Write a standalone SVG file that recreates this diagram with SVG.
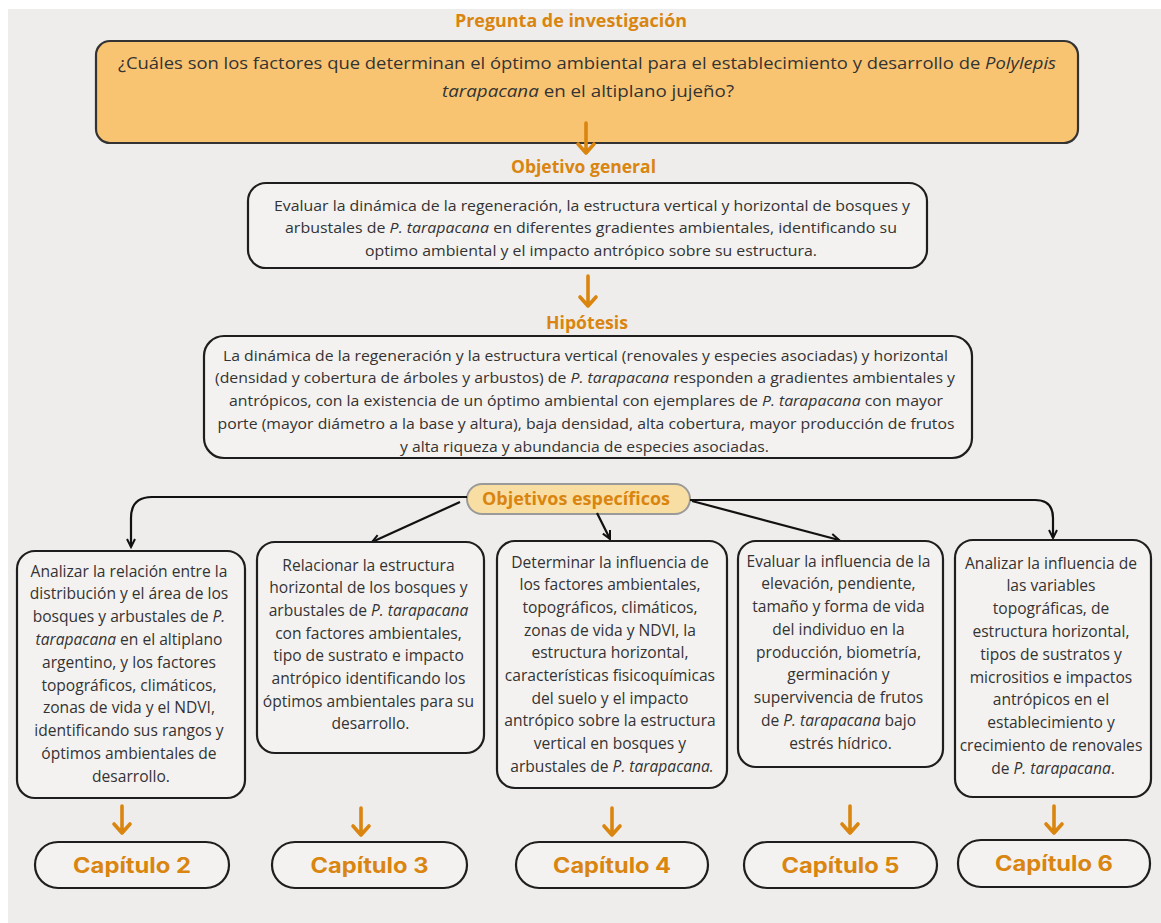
<svg xmlns="http://www.w3.org/2000/svg" width="1161" height="923" viewBox="0 0 1161 923">
<style>
.title{font-family:"Open Sans","Liberation Sans",sans-serif;font-weight:700;font-size:18px;fill:#D9850F;text-anchor:middle}
.box{fill:#F3F2F1;stroke:#1e1e1e;stroke-width:2.2}
.t{font-family:"Open Sans","Liberation Sans",sans-serif;font-size:15.6px;fill:#333;text-anchor:middle}
.tc{font-family:"Open Sans","Liberation Sans",sans-serif;font-size:15.2px;fill:#333;text-anchor:middle}
.i{font-style:italic}
.chap{fill:#F3F2F1;stroke:#1e1e1e;stroke-width:2.2}
.ct{font-family:Inter,"Liberation Sans",sans-serif;font-weight:700;font-size:21px;fill:#D9850F;text-anchor:middle}
.oa{fill:none;stroke:#D9850F;stroke-width:3.6;stroke-linecap:round;stroke-linejoin:round}
.con{fill:none;stroke:#111;stroke-width:2.2}
</style>
<defs>
<marker id="ah" markerUnits="userSpaceOnUse" markerWidth="12" markerHeight="12" refX="9" refY="5" orient="auto">
<path d="M1,1 L9,5 L1,9" fill="none" stroke="#111" stroke-width="2"/>
</marker>
</defs>
<rect x="8" y="9" width="1153" height="914" fill="#EEEDEB"/>

<g id="pregunta">
<text class="title" x="571" y="27" textLength="232" lengthAdjust="spacingAndGlyphs">Pregunta de investigación</text>
<rect x="96" y="41" width="982" height="102" rx="14" fill="#F9C472" stroke="#333" stroke-width="2.2"/>
<text class="t" style="font-size:16.8px" x="587" y="69" textLength="938" lengthAdjust="spacingAndGlyphs">¿Cuáles son los factores que determinan el óptimo ambiental para el establecimiento y desarrollo de <tspan class="i">Polylepis</tspan></text>
<text class="t" style="font-size:16.8px" x="588" y="97" textLength="292" lengthAdjust="spacingAndGlyphs"><tspan class="i">tarapacana</tspan> en el altiplano jujeño?</text>
</g>

<g id="objetivo-general">
<text class="title" x="583.5" y="173" textLength="145" lengthAdjust="spacingAndGlyphs">Objetivo general</text>
<rect class="box" x="248" y="183" width="679" height="85" rx="18"/>
<text class="tc" x="592" y="210.5" textLength="636" lengthAdjust="spacingAndGlyphs">Evaluar la dinámica de la regeneración, la estructura vertical y horizontal de bosques y</text>
<text class="tc" x="591" y="233" textLength="612" lengthAdjust="spacingAndGlyphs">arbustales de <tspan class="i">P. tarapacana</tspan> en diferentes gradientes ambientales, identificando su</text>
<text class="tc" x="591" y="255.5" textLength="452" lengthAdjust="spacingAndGlyphs">optimo ambiental y el impacto antrópico sobre su estructura.</text>
</g>

<g id="hipotesis">
<text class="title" x="587" y="329" textLength="82" lengthAdjust="spacingAndGlyphs">Hipótesis</text>
<rect class="box" x="204" y="336" width="768" height="122" rx="20"/>
<text class="tc" x="585.5" y="360.5" textLength="725" lengthAdjust="spacingAndGlyphs">La dinámica de la regeneración y la estructura vertical (renovales y especies asociadas) y horizontal</text>
<text class="tc" x="585" y="383" textLength="740" lengthAdjust="spacingAndGlyphs">(densidad y cobertura de árboles y arbustos) de <tspan class="i">P. tarapacana</tspan> responden a gradientes ambientales y</text>
<text class="tc" x="586" y="406" textLength="714" lengthAdjust="spacingAndGlyphs">antrópicos, con la existencia de un óptimo ambiental con ejemplares de <tspan class="i">P. tarapacana</tspan> con mayor</text>
<text class="tc" x="586" y="428.5" textLength="737" lengthAdjust="spacingAndGlyphs">porte (mayor diámetro a la base y altura), baja densidad, alta cobertura, mayor producción de frutos</text>
<text class="tc" x="584.5" y="451.5" textLength="369" lengthAdjust="spacingAndGlyphs">y alta riqueza y abundancia de especies asociadas.</text>
</g>

<g id="objetivos-especificos">
<rect x="467" y="484" width="223" height="30" rx="15" fill="#F9DEA3" stroke="#9a9a9a" stroke-width="2"/>
<text class="title" x="576" y="505" textLength="188" lengthAdjust="spacingAndGlyphs">Objetivos específicos</text>
</g>

<g id="connectors">
<path class="oa" d="M586,123 V153 M578,144 L586,153 L594,144"/>
<path class="oa" d="M588,276 V306 M580,297 L588,306 L596,297"/>
<path class="con" d="M467,497 H152 Q131,497 131,518 V547" marker-end="url(#ah)"/>
<path class="con" d="M460,502 L372,542" marker-end="url(#ah)"/>
<path class="con" d="M597,513 L610,539" marker-end="url(#ah)"/>
<path class="con" d="M692,501 L839,540" marker-end="url(#ah)"/>
<path class="con" d="M690,500 H1035 Q1053,500 1053,518 V538" marker-end="url(#ah)"/>
<path class="oa" d="M122,806 V833 M114,824 L122,833 L130,824"/>
<path class="oa" d="M361,808 V835 M353,826 L361,835 L369,826"/>
<path class="oa" d="M612,808 V835 M604,826 L612,835 L620,826"/>
<path class="oa" d="M850,806 V833 M842,824 L850,833 L858,824"/>
<path class="oa" d="M1054,806 V833 M1046,824 L1054,833 L1062,824"/>
</g>

<g id="obj1">
<rect class="box" x="17" y="551" width="228" height="247" rx="18"/>
<text class="t" x="131" y="576.5">
<tspan x="131">Analizar la relación entre la</tspan>
<tspan x="131" dy="22.8">distribución y el área de los</tspan>
<tspan x="131" dy="22.8">bosques y arbustales de <tspan class="i">P.</tspan></tspan>
<tspan x="131" dy="22.8"><tspan class="i">tarapacana</tspan> en el altiplano</tspan>
<tspan x="131" dy="22.8">argentino, y los factores</tspan>
<tspan x="131" dy="22.8">topográficos, climáticos,</tspan>
<tspan x="131" dy="22.8">zonas de vida y el NDVI,</tspan>
<tspan x="131" dy="22.8">identificando sus rangos y</tspan>
<tspan x="131" dy="22.8">óptimos ambientales de</tspan>
<tspan x="131" dy="22.8">desarrollo.</tspan>
</text>
</g>

<g id="obj2">
<rect class="box" x="257" y="542" width="227" height="211" rx="18"/>
<text class="t" x="370.5" y="570.5">
<tspan x="370.5">Relacionar la estructura</tspan>
<tspan x="370.5" dy="22.7">horizontal de los bosques y</tspan>
<tspan x="370.5" dy="22.7">arbustales de <tspan class="i">P. tarapacana</tspan></tspan>
<tspan x="370.5" dy="22.7">con factores ambientales,</tspan>
<tspan x="370.5" dy="22.7">tipo de sustrato e impacto</tspan>
<tspan x="370.5" dy="22.7">antrópico identificando los</tspan>
<tspan x="370.5" dy="22.7">óptimos ambientales para su</tspan>
<tspan x="370.5" dy="22.7">desarrollo.</tspan>
</text>
</g>

<g id="obj3">
<rect class="box" x="497" y="541" width="230" height="247" rx="18"/>
<text class="t" x="612" y="567.5">
<tspan x="612">Determinar la influencia de</tspan>
<tspan x="612" dy="22.7">los factores ambientales,</tspan>
<tspan x="612" dy="22.7">topográficos, climáticos,</tspan>
<tspan x="612" dy="22.7">zonas de vida y NDVI, la</tspan>
<tspan x="612" dy="22.7">estructura horizontal,</tspan>
<tspan x="612" dy="22.7">características fisicoquímicas</tspan>
<tspan x="612" dy="22.7">del suelo y el impacto</tspan>
<tspan x="612" dy="22.7">antrópico sobre la estructura</tspan>
<tspan x="612" dy="22.7">vertical en bosques y</tspan>
<tspan x="612" dy="22.7">arbustales de <tspan class="i">P. tarapacana.</tspan></tspan>
</text>
</g>

<g id="obj4">
<rect class="box" x="738" y="541" width="205" height="226" rx="18"/>
<text class="t" x="840.5" y="566.5">
<tspan x="840.5">Evaluar la influencia de la</tspan>
<tspan x="840.5" dy="22.75">elevación, pendiente,</tspan>
<tspan x="840.5" dy="22.75">tamaño y forma de vida</tspan>
<tspan x="840.5" dy="22.75">del individuo en la</tspan>
<tspan x="840.5" dy="22.75">producción, biometría,</tspan>
<tspan x="840.5" dy="22.75">germinación y</tspan>
<tspan x="840.5" dy="22.75">supervivencia de frutos</tspan>
<tspan x="840.5" dy="22.75">de <tspan class="i">P. tarapacana</tspan> bajo</tspan>
<tspan x="840.5" dy="22.75">estrés hídrico.</tspan>
</text>
</g>

<g id="obj5">
<rect class="box" x="955" y="540" width="196" height="257" rx="18"/>
<text class="t" x="1053" y="568.5">
<tspan x="1053">Analizar la influencia de</tspan>
<tspan x="1053" dy="22.8">las variables</tspan>
<tspan x="1053" dy="22.8">topográficas, de</tspan>
<tspan x="1053" dy="22.8">estructura horizontal,</tspan>
<tspan x="1053" dy="22.8">tipos de sustratos y</tspan>
<tspan x="1053" dy="22.8">micrositios e impactos</tspan>
<tspan x="1053" dy="22.8">antrópicos en el</tspan>
<tspan x="1053" dy="22.8">establecimiento y</tspan>
<tspan x="1053" dy="22.8">crecimiento de renovales</tspan>
<tspan x="1053" dy="22.8">de <tspan class="i">P. tarapacana</tspan>.</tspan>
</text>
</g>

<g id="cap2"><rect class="chap" x="35" y="842" width="194" height="46" rx="23"/><text class="ct" x="132" y="873" textLength="118" lengthAdjust="spacingAndGlyphs">Capítulo 2</text></g>
<g id="cap3"><rect class="chap" x="272" y="842" width="195" height="46" rx="23"/><text class="ct" x="369.5" y="873" textLength="118" lengthAdjust="spacingAndGlyphs">Capítulo 3</text></g>
<g id="cap4"><rect class="chap" x="516" y="842" width="192" height="46" rx="23"/><text class="ct" x="612" y="873" textLength="118" lengthAdjust="spacingAndGlyphs">Capítulo 4</text></g>
<g id="cap5"><rect class="chap" x="744" y="842" width="193" height="46" rx="23"/><text class="ct" x="840.5" y="873" textLength="118" lengthAdjust="spacingAndGlyphs">Capítulo 5</text></g>
<g id="cap6"><rect class="chap" x="958" y="840" width="192" height="47" rx="23"/><text class="ct" x="1054" y="871" textLength="118" lengthAdjust="spacingAndGlyphs">Capítulo 6</text></g>
</svg>
